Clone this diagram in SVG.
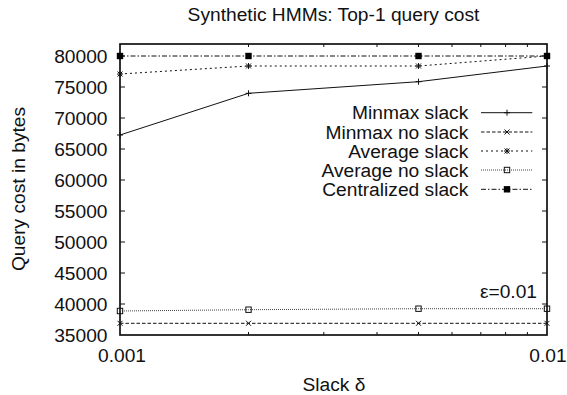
<svg xmlns="http://www.w3.org/2000/svg" width="567" height="395" viewBox="0 0 567 395">
<style>
text{font-family:"Liberation Sans",Arial,sans-serif;font-size:19.2px;fill:#111}
.ytl{text-anchor:end}
.mid{text-anchor:middle}
.end{text-anchor:end}
.frame{fill:none;stroke:#111;stroke-width:1.7}
.tick{stroke:#111;stroke-width:1}
.ln{fill:none;stroke:#111;stroke-width:1}
.s1{}
.s2{stroke-dasharray:3.5 2}
.s3{stroke-dasharray:2 3}
.s4{stroke-dasharray:1 1;stroke:#444}
.s5{stroke-dasharray:5 2 1.5 2}
.mk{fill:none;stroke:#111;stroke-width:1}
</style>
<defs>
<path id="mplus" class="mk" d="M-3,0H3M0,-3V3"/>
<path id="mx" class="mk" d="M-2.5,-2.5L2.5,2.5M-2.5,2.5L2.5,-2.5"/>
<path id="mstar" class="mk" d="M-2.5,-2.5L2.5,2.5M-2.5,2.5L2.5,-2.5M-3,0H3M0,-3V3"/>
<rect id="mbox" class="mk" x="-2.7" y="-2.7" width="5.4" height="5.4"/>
<rect id="mfbox" x="-3.2" y="-3.2" width="6.4" height="6.4" fill="#000"/>
</defs>

<text class="mid" x="333.5" y="20.7">Synthetic HMMs: Top-1 query cost</text>

<g id="axes">
<rect class="frame" x="120" y="44" width="427" height="291"/>
<g class="tick">
<path d="M120,56h5M120,87h5M120,118h5M120,149h5M120,180h5M120,211h5M120,242h5M120,273h5M120,304h5"/>
<path d="M547,56h-5M547,87h-5M547,118h-5M547,149h-5M547,180h-5M547,211h-5M547,242h-5M547,273h-5M547,304h-5"/>
<path d="M248.5,335v-3M323.8,335v-3M377,335v-3M418.5,335v-3M452,335v-3M480.8,335v-3M505.6,335v-3M527.4,335v-3"/>
<path d="M248.5,44v3M323.8,44v3M377,44v3M418.5,44v3M452,44v3M480.8,44v3M505.6,44v3M527.4,44v3"/>
</g>
<g id="ylabels">
<text class="ytl" x="107.5" y="63">80000</text>
<text class="ytl" x="107.5" y="94">75000</text>
<text class="ytl" x="107.5" y="125">70000</text>
<text class="ytl" x="107.5" y="156">65000</text>
<text class="ytl" x="107.5" y="187">60000</text>
<text class="ytl" x="107.5" y="218">55000</text>
<text class="ytl" x="107.5" y="249">50000</text>
<text class="ytl" x="107.5" y="280">45000</text>
<text class="ytl" x="107.5" y="311">40000</text>
<text class="ytl" x="107.5" y="342">35000</text>
</g>
<text class="mid" x="122" y="361.5">0.001</text>
<text class="mid" x="548" y="361.5">0.01</text>
<text class="mid" x="334" y="390.5">Slack δ</text>
<text class="mid" transform="translate(25,189) rotate(-90)" x="0" y="0">Query cost in bytes</text>
<text class="end" x="537" y="297.5">ε=0.01</text>
</g>

<g id="connectors">
<g id="minmax-slack">
<polyline class="ln s1" points="120,135 248.5,93.3 418.5,81.7 547,66"/>
<use href="#mplus" x="120" y="135"/><use href="#mplus" x="248.5" y="93.3"/><use href="#mplus" x="418.5" y="81.7"/><use href="#mplus" x="547" y="66"/>
</g>
<g id="minmax-noslack">
<polyline class="ln s2" points="120,323.3 248.5,323.3 418.5,323.3 547,323.3"/>
<use href="#mx" x="120" y="323.3"/><use href="#mx" x="248.5" y="323.3"/><use href="#mx" x="418.5" y="323.3"/><use href="#mx" x="547" y="323.3"/>
</g>
<g id="average-slack">
<polyline class="ln s3" points="120,74 248.5,66 418.5,66 547,56"/>
<use href="#mstar" x="120" y="74"/><use href="#mstar" x="248.5" y="66"/><use href="#mstar" x="418.5" y="66"/><use href="#mstar" x="547" y="56"/>
</g>
<g id="average-noslack">
<polyline class="ln s4" points="120,311 248.5,309.7 418.5,308.7 547,308.7"/>
<use href="#mbox" x="120" y="311"/><use href="#mbox" x="248.5" y="309.7"/><use href="#mbox" x="418.5" y="308.7"/><use href="#mbox" x="547" y="308.7"/>
</g>
<g id="centralized-slack">
<polyline class="ln s5" points="120,56 248.5,56 418.5,56 547,56"/>
<use href="#mfbox" x="120" y="56"/><use href="#mfbox" x="248.5" y="56"/><use href="#mfbox" x="418.5" y="56"/><use href="#mfbox" x="547" y="56"/>
</g>
</g>

<g id="legend">
<text class="end" x="468.3" y="119.4">Minmax slack</text>
<path class="ln s1" d="M481,112.7H532.3"/><use href="#mplus" x="507" y="112.7"/>
<text class="end" x="468.3" y="138.6">Minmax no slack</text>
<path class="ln s2" d="M481,132H532.3"/><use href="#mx" x="507" y="132"/>
<text class="end" x="468.3" y="157.7">Average slack</text>
<path class="ln s3" d="M481,151H532.3"/><use href="#mstar" x="507" y="151"/>
<text class="end" x="468.3" y="176.8">Average no slack</text>
<path class="ln s4" d="M481,170H532.3"/><use href="#mbox" x="507" y="170"/>
<text class="end" x="468.3" y="196">Centralized slack</text>
<path class="ln s5" d="M481,189.3H532.3"/><use href="#mfbox" x="507" y="189.3"/>
</g>
</svg>
